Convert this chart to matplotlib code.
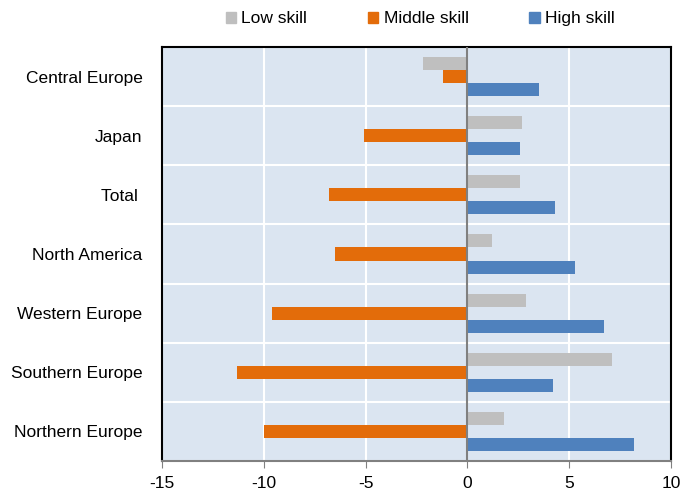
import numpy as np
import matplotlib.pyplot as plt
from matplotlib.patches import Patch

regions = ['Central Europe', 'Japan', 'Total ', 'North America',
           'Western Europe', 'Southern Europe', 'Northern Europe']
low_skill = [-2.2, 2.7, 2.6, 1.2, 2.9, 7.1, 1.8]
middle_skill = [-1.2, -5.1, -6.8, -6.5, -9.6, -11.3, -10.0]
high_skill = [3.5, 2.6, 4.3, 5.3, 6.7, 4.2, 8.2]

plt.rcParams['font.family'] = ['Liberation Sans', 'DejaVu Sans']

fig = plt.figure(figsize=(6.81, 4.94), dpi=100)
ax = fig.add_axes([162 / 681, 1 - 461 / 494, 509 / 681, 414 / 494])
ax.set_facecolor('#dbe5f1')

y = np.arange(len(regions))
h = 0.22
ax.barh(y - h, low_skill, height=h, color='#bfbfbf', zorder=3)
ax.barh(y, middle_skill, height=h, color='#e36c0a', zorder=3)
ax.barh(y + h, high_skill, height=h, color='#4f81bd', zorder=3)

ax.set_xlim(-15, 10)
ax.set_ylim(len(regions) - 0.5, -0.5)
ax.set_xticks([-15, -10, -5, 0, 5, 10])
ax.set_xticklabels(['-15', '-10', '-5', '0', '5', '10'])
ax.set_yticks(y)
ax.set_yticklabels(regions)
ax.set_yticks(np.arange(len(regions) + 1) - 0.5, minor=True)
ax.tick_params(axis='y', which='both', length=0, labelsize=12.5, pad=14)
ax.tick_params(axis='x', length=5, color='#808080', labelsize=12.5, pad=6)
ax.grid(axis='x', color='white', lw=1.5, zorder=1)
ax.grid(axis='y', which='minor', color='white', lw=1.5, zorder=1)
ax.axvline(0, color='#808080', lw=1.5, zorder=4)

for s in ['top', 'left', 'right']:
    ax.spines[s].set_color('black')
    ax.spines[s].set_linewidth(1.5)
ax.spines['bottom'].set_color('#808080')
ax.spines['bottom'].set_linewidth(1.5)

handles = [Patch(color='#bfbfbf', label='Low skill'),
           Patch(color='#e36c0a', label='Middle skill'),
           Patch(color='#4f81bd', label='High skill')]
fig.legend(handles=handles, loc='center', bbox_to_anchor=(0.617, 0.962), ncol=3,
           frameon=False, fontsize=12.5, handlelength=0.6, handleheight=0.6,
           handletextpad=0.3, columnspacing=3.5)

fig.savefig('out.png', dpi=100)
